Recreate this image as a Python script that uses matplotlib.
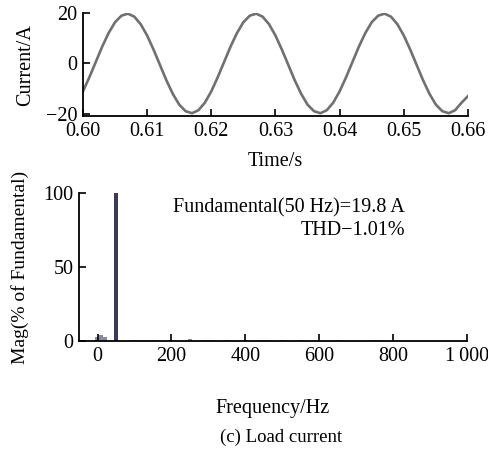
import matplotlib
matplotlib.use("Agg")
import matplotlib.pyplot as plt

plt.rcParams["font.family"] = ["Liberation Serif", "DejaVu Serif"]
plt.rcParams["mathtext.fontset"] = "stix"

time_s = [0.600, 0.601, 0.602, 0.603, 0.604, 0.605, 0.606, 0.607, 0.608, 0.609,
          0.610, 0.611, 0.612, 0.613, 0.614, 0.615, 0.616, 0.617, 0.618, 0.619,
          0.620, 0.621, 0.622, 0.623, 0.624, 0.625, 0.626, 0.627, 0.628, 0.629,
          0.630, 0.631, 0.632, 0.633, 0.634, 0.635, 0.636, 0.637, 0.638, 0.639,
          0.640, 0.641, 0.642, 0.643, 0.644, 0.645, 0.646, 0.647, 0.648, 0.649,
          0.650, 0.651, 0.652, 0.653, 0.654, 0.655, 0.656, 0.657, 0.658, 0.659,
          0.660]
current_a = [-11.1, -5.5, 0.6, 6.7, 12.1, 16.4, 19.0, 19.8, 18.6, 15.6,
             11.1, 5.5, -0.6, -6.7, -12.1, -16.4, -19.0, -19.8, -18.6, -15.6,
             -11.1, -5.5, 0.6, 6.7, 12.1, 16.4, 19.0, 19.8, 18.6, 15.6,
             11.1, 5.5, -0.6, -6.7, -12.1, -16.4, -19.0, -19.8, -18.6, -15.6,
             -11.1, -5.5, 0.6, 6.7, 12.1, 16.4, 19.0, 19.8, 18.6, 15.6,
             11.1, 5.5, -0.6, -6.7, -12.1, -16.4, -19.0, -19.8, -18.6, -15.6,
             -13.0]

# FFT spectrum (% of fundamental)
freq_hz = [0, 10, 20, 50, 100, 150, 200, 250, 300, 350, 400, 450, 500,
           550, 600, 650, 700, 750, 800, 850, 900, 950, 1000]
mag_pct = [3.0, 4.0, 3.0, 100.0, 0.5, 0.8, 0.4, 1.2, 0.4, 0.7, 0.4, 0.5, 0.4,
           0.5, 0.3, 0.4, 0.3, 0.4, 0.3, 0.3, 0.3, 0.3, 0.3]

fs = 14.5
fig = plt.figure(figsize=(4.88, 4.54), dpi=100)

ax1 = fig.add_axes([0.170, 0.744, 0.789, 0.227])
ax1.plot(time_s, current_a, color="#707070", linewidth=1.9)
ax1.set_xlim(0.60, 0.66)
ax1.set_ylim(-21, 20)
ax1.set_xticks([0.60, 0.61, 0.62, 0.63, 0.64, 0.65, 0.66])
ax1.set_xticklabels(["0.60", "0.61", "0.62", "0.63", "0.64", "0.65", "0.66"])
ax1.set_yticks([-20, 0, 20])
ax1.set_yticklabels(["\u221220", "0", "20"])
ax1.set_xlabel("Time/s", fontsize=fs, labelpad=8)
ax1.set_ylabel("Current/A", fontsize=fs, labelpad=8)

ax2 = fig.add_axes([0.162, 0.249, 0.795, 0.326])
colors = ["#8a8aa0" if m < 50 else "#3b3b58" for m in mag_pct]
ax2.bar(freq_hz, mag_pct, width=11, color=colors, edgecolor="none")
ax2.set_xlim(-50, 1000)
ax2.set_ylim(0, 100)
ax2.set_xticks([0, 200, 400, 600, 800, 1000])
ax2.set_xticklabels(["0", "200", "400", "600", "800", "1\u2009000"])
ax2.set_yticks([0, 50, 100])
ax2.set_xlabel("Frequency/Hz", fontsize=fs, labelpad=24)
ax2.set_ylabel("Mag(% of Fundamental)", fontsize=14, labelpad=10)
ax2.text(0.840, 0.90, "Fundamental(50 Hz)=19.8 A", transform=ax2.transAxes,
         ha="right", va="center", fontsize=fs)
ax2.text(0.840, 0.745, "THD\u22121.01%", transform=ax2.transAxes,
         ha="right", va="center", fontsize=fs)

for ax in (ax1, ax2):
    ax.spines["top"].set_visible(False)
    ax.spines["right"].set_visible(False)
    ax.spines["left"].set_linewidth(1.3)
    ax.spines["bottom"].set_linewidth(1.3)
    ax.tick_params(direction="in", length=5, width=1.2, labelsize=fs, pad=4)

fig.text(0.575, 0.037, "(c) Load current", ha="center", va="center", fontsize=13.5)

fig.savefig("out.png", dpi=100)
